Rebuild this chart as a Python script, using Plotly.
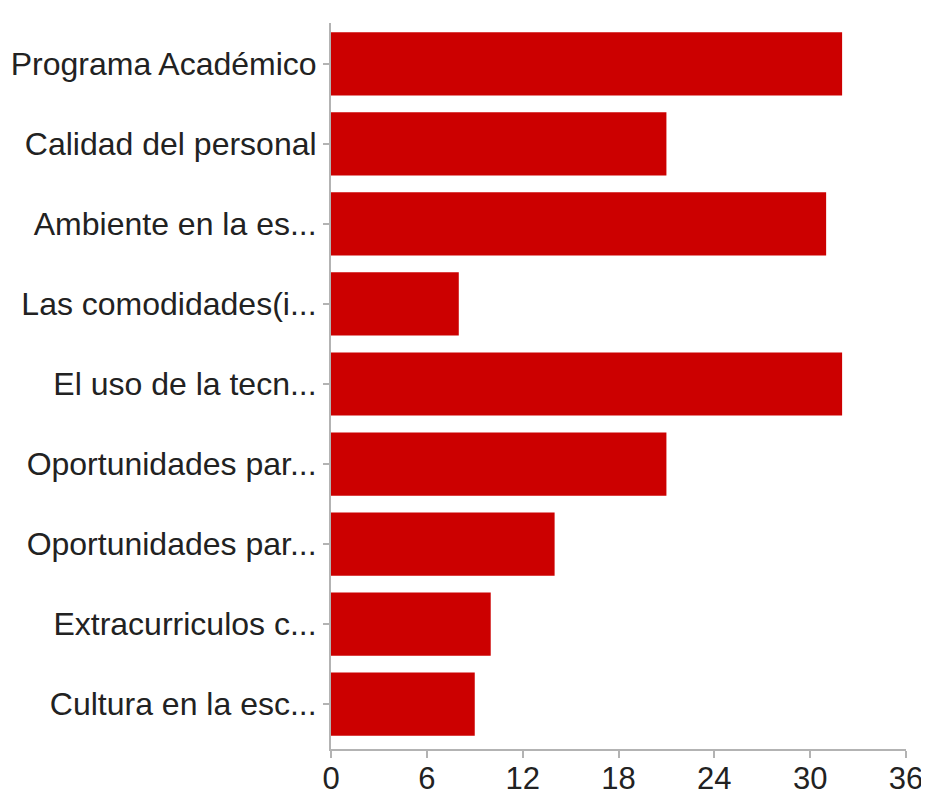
import plotly.graph_objects as go

categories = [
    "Programa Académico",
    "Calidad del personal",
    "Ambiente en la es...",
    "Las comodidades(i...",
    "El uso de la tecn...",
    "Oportunidades par...",
    "Oportunidades par...",
    "Extracurriculos c...",
    "Cultura en la esc...",
]
values = [32, 21, 31, 8, 32, 21, 14, 10, 9]
tick_vals = [0, 6, 12, 18, 24, 30, 36]

# categories contain a duplicate label, so position them by index
positions = list(range(len(categories)))

fig = go.Figure(
    go.Bar(
        x=values,
        y=positions,
        orientation="h",
        marker=dict(color="#CC0000", line=dict(width=0)),
        customdata=categories,
        hovertemplate="%{customdata}: %{x}<extra></extra>",
    )
)

font_family = "Liberation Sans, Arial, Helvetica, sans-serif"

# page body has an 8px margin, so the figure is offset by (8, 8)
fig.update_layout(
    width=915,
    height=790,
    margin=dict(l=323, r=17, t=15, b=49),
    paper_bgcolor="white",
    plot_bgcolor="white",
    bargap=0.21,
    showlegend=False,
    font=dict(family=font_family, size=31, color="#222222"),
)

fig.update_xaxes(
    range=[0, 36],
    tickvals=tick_vals,
    ticktext=[str(v) for v in tick_vals],
    showgrid=False,
    zeroline=False,
    showline=True,
    linecolor="#b3b3b3",
    linewidth=2,
    ticks="outside",
    ticklen=7,
    tickwidth=2,
    tickcolor="#b3b3b3",
    tickfont=dict(size=31, color="#222222"),
    ticklabeloverflow="allow",
    ticklabelstandoff=-6,
    automargin=False,
)

fig.update_yaxes(
    range=[8.56, -0.51],
    tickvals=positions,
    ticktext=categories,
    showgrid=False,
    zeroline=False,
    showline=True,
    linecolor="#b3b3b3",
    linewidth=2,
    ticks="outside",
    ticklen=6,
    tickwidth=2,
    tickcolor="#b3b3b3",
    tickfont=dict(size=32, color="#222222"),
    ticklabeloverflow="allow",
    automargin=False,
)

fig.write_html("out.html")
